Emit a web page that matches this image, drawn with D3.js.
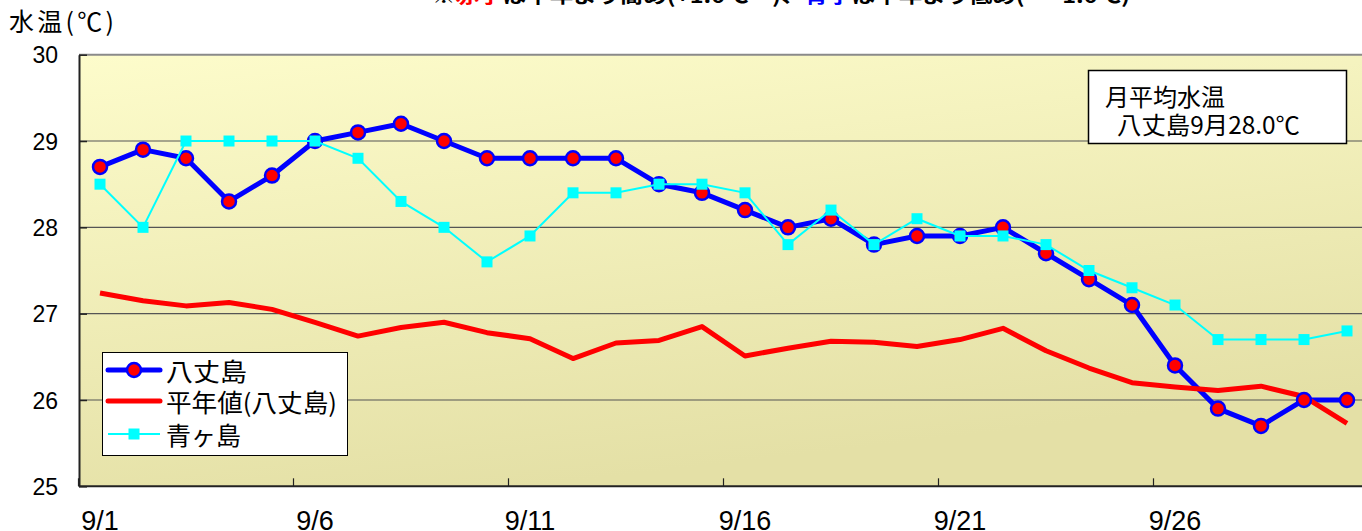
<!DOCTYPE html>
<html><head><meta charset="utf-8">
<script src="https://cdn.jsdelivr.net/npm/d3@7"></script>
<style>
html,body{margin:0;padding:0;background:#fff;overflow:hidden}
svg{display:block}
</style></head>
<body>
<svg id="chart" width="1362" height="531"></svg>
<script>
const dates = ["9/1","9/2","9/3","9/4","9/5","9/6","9/7","9/8","9/9","9/10","9/11","9/12","9/13","9/14","9/15","9/16","9/17","9/18","9/19","9/20","9/21","9/22","9/23","9/24","9/25","9/26","9/27","9/28","9/29","9/30"];
const hachijo = [28.7,28.9,28.8,28.3,28.6,29.0,29.1,29.2,29.0,28.8,28.8,28.8,28.8,28.5,28.4,28.2,28.0,28.1,27.8,27.9,27.9,28.0,27.7,27.4,27.1,26.4,25.9,25.7,26.0,26.0];
const normal = [27.24,27.15,27.09,27.13,27.05,26.90,26.74,26.84,26.90,26.78,26.71,26.48,26.66,26.69,26.85,26.51,26.60,26.68,26.67,26.62,26.70,26.83,26.57,26.37,26.20,26.15,26.11,26.16,26.04,25.73];
const aogashima = [28.5,28.0,29.0,29.0,29.0,29.0,28.8,28.3,28.0,27.6,27.9,28.4,28.4,28.5,28.5,28.4,27.8,28.2,27.8,28.1,27.9,27.9,27.8,27.5,27.3,27.1,26.7,26.7,26.7,26.8];
const yTicks = [25,26,27,28,29,30];
const xLabelDates = ["9/1","9/6","9/11","9/16","9/21","9/26"];
const seriesNames = ["八丈島","平年値(八丈島)","青ヶ島"];
const noteLines = ["月平均水温","八丈島9月28.0℃"];
const yTitle = "水温(℃)";

const svg = d3.select("#chart");
const L = 79, R = 1368.5, T = 54.7, B = 486.3;
const x = d3.scaleBand().domain(dates).range([L - 0.5, R]);
const cx = d => x(d) + x.bandwidth()/2;
const y = d3.scaleLinear().domain([25,30]).range([B, T]);
const jp = "'Noto Sans CJK JP','Noto Sans',sans-serif";
const num = "'Liberation Sans',Arial,sans-serif";

// top (cut-off) note
const note = svg.append("text").attr("x", 432).attr("y", 3)
  .attr("font-family", jp).attr("font-weight","bold").attr("font-size", 19)
  .attr("textLength", 698).attr("lengthAdjust","spacingAndGlyphs");
note.append("tspan").text("※");
note.append("tspan").attr("fill","#ff0000").text("赤字");
note.append("tspan").text("は平年より高め(+1.0℃〜)、");
note.append("tspan").attr("fill","#0000ff").text("青字");
note.append("tspan").text("は平年より低め(〜−1.0℃)");

// background gradient
const defs = svg.append("defs");
const g = defs.append("linearGradient").attr("id","bg").attr("x1","0").attr("y1","0").attr("x2","0.35").attr("y2","1");
g.append("stop").attr("offset","0").attr("stop-color","#fdfccb");
g.append("stop").attr("offset","1").attr("stop-color","#e4e0a6");
svg.append("rect").attr("x", L).attr("y", T).attr("width", R - L).attr("height", B - T).attr("fill","url(#bg)");

// gridlines
svg.append("g").selectAll("line").data(yTicks.filter(v => v > 25 && v < 30)).join("line")
  .attr("x1", L).attr("x2", R).attr("y1", d => y(d)).attr("y2", d => y(d))
  .attr("stroke","#555").attr("stroke-width",1.2);
// top border
svg.append("line").attr("x1", L).attr("x2", R).attr("y1", T).attr("y2", T).attr("stroke","#8a8a8a").attr("stroke-width",2);

// y axis
const yAxis = d3.axisLeft(y).tickValues(yTicks).tickFormat(d3.format("d")).tickSizeInner(-8).tickSizeOuter(0).tickPadding(21);
const ya = svg.append("g").attr("transform", `translate(${L},0)`).call(yAxis);
ya.select(".domain").attr("stroke","#222").attr("stroke-width",2);
ya.selectAll(".tick line").attr("stroke","#222").attr("stroke-width",1.5);
ya.selectAll(".tick text").attr("font-family", num).attr("font-size",23).attr("fill","#000").attr("dy","0.36em");

// x axis
svg.append("line").attr("x1", L).attr("x2", R).attr("y1", B).attr("y2", B).attr("stroke","#222").attr("stroke-width",2);
svg.append("g").selectAll("line").data(xLabelDates).join("line")
  .attr("x1", d => x(d)).attr("x2", d => x(d)).attr("y1", B).attr("y2", B - 8)
  .attr("stroke","#222").attr("stroke-width",1.2);
svg.append("g").selectAll("text").data(xLabelDates).join("text")
  .attr("x", d => cx(d)).attr("y", 530).attr("text-anchor","middle")
  .attr("font-family", num).attr("font-size",27).attr("fill","#000").text(d => d);

// y title
svg.append("text").attr("x", 9).attr("y", 31).attr("font-family", jp).attr("font-size",25)
  .attr("textLength",105).attr("lengthAdjust","spacing").attr("fill","#000").text(yTitle);

const line = d3.line().x((d,i) => cx(dates[i])).y(d => y(d));

// series
svg.append("path").datum(hachijo).attr("d", line).attr("fill","none").attr("stroke","#0000ff").attr("stroke-width",5).attr("stroke-linejoin","round");
svg.append("path").datum(normal).attr("d", line).attr("fill","none").attr("stroke","#ff0000").attr("stroke-width",5).attr("stroke-linejoin","round");
svg.append("g").selectAll("circle").data(hachijo).join("circle")
  .attr("cx", (d,i) => cx(dates[i])).attr("cy", d => y(d)).attr("r", 7)
  .attr("fill","#ff0000").attr("stroke","#0000ff").attr("stroke-width",2.5);
svg.append("path").datum(aogashima).attr("d", line).attr("fill","none").attr("stroke","#00ffff").attr("stroke-width",2);
svg.append("g").selectAll("rect").data(aogashima).join("rect")
  .attr("x", (d,i) => cx(dates[i]) - 5.5).attr("y", d => y(d) - 5.5).attr("width", 11).attr("height", 11)
  .attr("fill","#00ffff");

// legend
const lg = svg.append("g");
lg.append("rect").attr("x", 102.5).attr("y", 352.5).attr("width", 245).attr("height", 103)
  .attr("fill","#fff").attr("stroke","#000").attr("stroke-width",1);
const rowsY = [370, 401, 434];
const legendLen = [81, 171, null];
seriesNames.forEach((n, i) => {
  const yy = rowsY[i];
  if (i === 0) {
    lg.append("line").attr("x1",108).attr("x2",160).attr("y1",yy).attr("y2",yy).attr("stroke","#0000ff").attr("stroke-width",5).attr("stroke-linecap","round");
    lg.append("circle").attr("cx",134).attr("cy",yy).attr("r",7).attr("fill","#ff0000").attr("stroke","#0000ff").attr("stroke-width",2.5);
  } else if (i === 1) {
    lg.append("line").attr("x1",108).attr("x2",160).attr("y1",yy).attr("y2",yy).attr("stroke","#ff0000").attr("stroke-width",5).attr("stroke-linecap","round");
  } else {
    lg.append("line").attr("x1",108).attr("x2",160).attr("y1",yy).attr("y2",yy).attr("stroke","#00ffff").attr("stroke-width",2);
    lg.append("rect").attr("x",128.5).attr("y",yy-5.5).attr("width",11).attr("height",11).attr("fill","#00ffff");
  }
  const t = lg.append("text").attr("x",166).attr("y",yy + 11).attr("font-family", jp).attr("font-size",25)
    .attr("fill","#000").text(n);
  if (legendLen[i]) t.attr("textLength", legendLen[i]).attr("lengthAdjust","spacingAndGlyphs");
});

// note box
const nb = svg.append("g");
nb.append("rect").attr("x",1088.5).attr("y",70.5).attr("width",258).attr("height",73)
  .attr("fill","#fff").attr("stroke","#000").attr("stroke-width",1.5);
nb.append("text").attr("x",1105).attr("y",105.5).attr("font-family", jp).attr("font-size",24)
  .attr("textLength",120).attr("lengthAdjust","spacingAndGlyphs").attr("fill","#000").text(noteLines[0]);
nb.append("text").attr("x",1117).attr("y",133.5).attr("font-family", jp).attr("font-size",24)
  .attr("textLength",183).attr("lengthAdjust","spacingAndGlyphs").attr("fill","#000").text(noteLines[1]);
</script>
</body></html>
